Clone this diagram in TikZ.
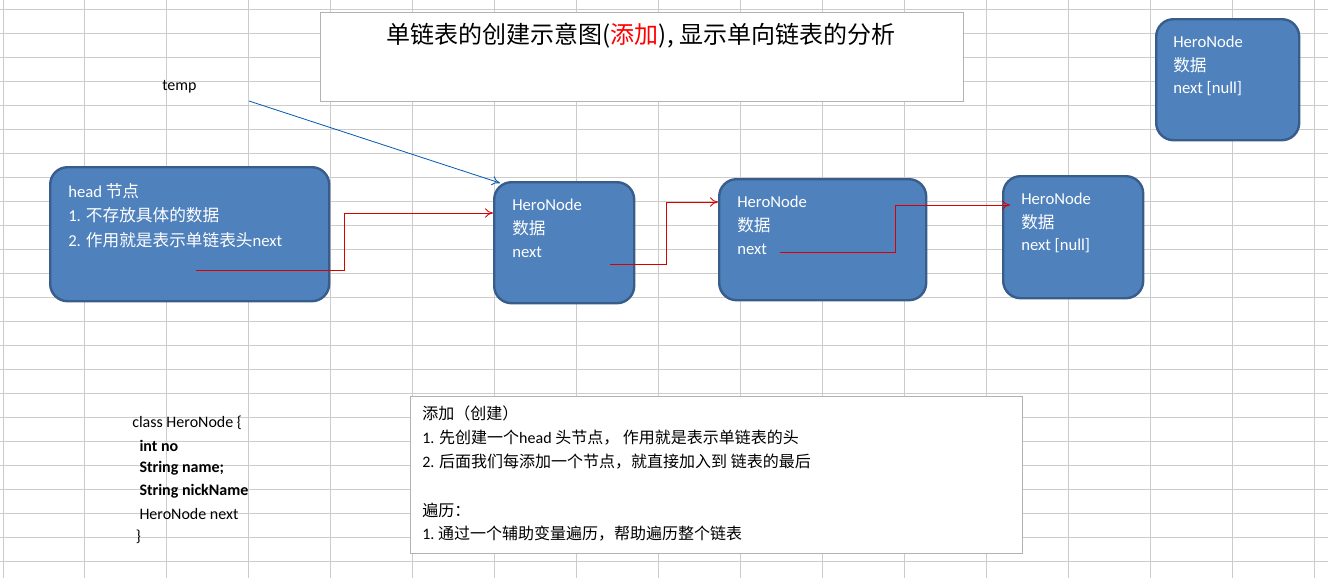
\documentclass[tikz,border=0pt]{standalone}
\usepackage{fontspec}
\setmainfont{Carlito}
\newfontfamily\cjk{Noto Sans CJK SC}
\usetikzlibrary{arrows.meta}
\begin{document}
\begin{tikzpicture}[x=0.75pt,y=-0.75pt,
  hn/.style={draw=blue!40!black!70!cyan!60, fill=nodeblue, line width=1.8pt, rounded corners=13pt, inner sep=0},
  tw/.style={anchor=west, text=white, font=\fontsize{12.5pt}{14pt}\selectfont, inner sep=0},
  tb/.style={anchor=west, font=\fontsize{12pt}{14pt}\selectfont, inner sep=0},
  red/.style={draw=red!85!black, line width=0.6pt, -{To[length=6pt,width=7pt]}},
]
\definecolor{nodeblue}{HTML}{4F81BD}
\definecolor{nodeedge}{HTML}{385D8A}
\tikzset{hn/.append style={draw=nodeedge}}
\useasboundingbox (0,0) rectangle (1328,578);
\fill[white] (0,0) rectangle (1328,578);
% grid
\foreach \gx in {3,84,166,248,330,412,494,576,658,740,822,904,986,1068,1150,1232,1314}
  \draw[black!20, line width=0.75pt] (\gx,0) -- (\gx,578);
\foreach \gy in {9,33,57,81,105,129,153,177,201,225,249,273,297,321,345,369,393,417,441,465,489,513,537,561}
  \draw[black!20, line width=0.75pt] (0,\gy) -- (1328,\gy);
% title
\node[draw=black!30, fill=white, minimum width=643*0.75pt, minimum height=89*0.75pt, anchor=north west, line width=0.75pt] (title) at (320,12) {};
\node[anchor=center, font=\fontsize{18pt}{20pt}\selectfont, inner sep=0] (tt) at (641,36) {\cjk 单链表的创建示意图(\textcolor{red}{添加}), 显示单向链表的分析};
% nodes
\node[hn, minimum width=143*0.75pt, minimum height=121*0.75pt, anchor=north west] (n0) at (1155,18) {};
\node[tw] (n0a) at (1173,42) {HeroNode};
\node[tw] (n0b) at (1173,65) {\cjk 数据};
\node[tw] (n0c) at (1173,89) {next [null]};

\node[hn, minimum width=279*0.75pt, minimum height=134*0.75pt, anchor=north west] (head) at (49,166) {};
\node[tw] (ha) at (68,191) {head {\cjk 节点}};
\node[tw] (hb) at (68,215) {1. {\cjk 不存放具体的数据}};
\node[tw] (hc) at (68,240) {2. {\cjk 作用就是表示单链表头}next};

\node[hn, minimum width=140*0.75pt, minimum height=121*0.75pt, anchor=north west] (n1) at (493,181) {};
\node[tw] (n1a) at (512,205) {HeroNode};
\node[tw] (n1b) at (512,228) {\cjk 数据};
\node[tw] (n1c) at (512,252) {next};

\node[hn, minimum width=207*0.75pt, minimum height=121*0.75pt, anchor=north west] (n2) at (718,178) {};
\node[tw] (n2a) at (737,202) {HeroNode};
\node[tw] (n2b) at (737,225) {\cjk 数据};
\node[tw] (n2c) at (737,249) {next};

\node[hn, minimum width=140*0.75pt, minimum height=122*0.75pt, anchor=north west] (n3) at (1002,175) {};
\node[tw] (n3a) at (1021,199) {HeroNode};
\node[tw] (n3b) at (1021,222) {\cjk 数据};
\node[tw] (n3c) at (1021,246) {next [null]};

% temp
\node[tb] (temp) at (162,87) {temp};
\coordinate (ts) at (249,101);
\draw[draw=blue!50!cyan!70!black, line width=0.6pt, -{To[length=6pt,width=7pt]}] (ts) -- (500,183);

% red connectors
\coordinate (h0) at (196,270);
\coordinate (c1) at (610,264);
\coordinate (c2) at (780,252);
\draw[red] (h0) -- (344,270) -- (344,213) -- (n1.west |- 0,213);
\draw[red] (c1) -- (666,264) -- (666,202) -- (n2.west |- 0,202);
\draw[red] (c2) -- (895,252) -- (895,205) -- (1010,205);

% class text
\node[tb] (k1) at (132,423) {class HeroNode \{};
\node[tb] (k2) at (132,446) {\ \ \textbf{int no}};
\node[tb] (k3) at (132,468) {\ \ \textbf{String name;}};
\node[tb] (k4) at (132,491) {\ \ \textbf{String nickName}};
\node[tb] (k5) at (132,514) {\ \ HeroNode next};
\node[tb] (k6) at (132,537) {\ \}};

% bottom box
\node[draw=black!30, fill=white, minimum width=612*0.75pt, minimum height=157*0.75pt, anchor=north west, line width=0.75pt] (note) at (410,396) {};
\node[tb] (b1) at (422,413) {\cjk 添加（创建）};
\node[tb] (b2) at (422,438) {1. {\cjk 先创建一个}head {\cjk 头节点，\ 作用就是表示单链表的头}};
\node[tb] (b3) at (422,462) {2. {\cjk 后面我们每添加一个节点，就直接加入到\ 链表的最后}};
\node[tb] (b4) at (422,510) {\cjk 遍历：};
\node[tb] (b5) at (422,534) {1.\ {\cjk 通过一个辅助变量遍历，帮助遍历整个链表}};
\end{tikzpicture}
\end{document}
